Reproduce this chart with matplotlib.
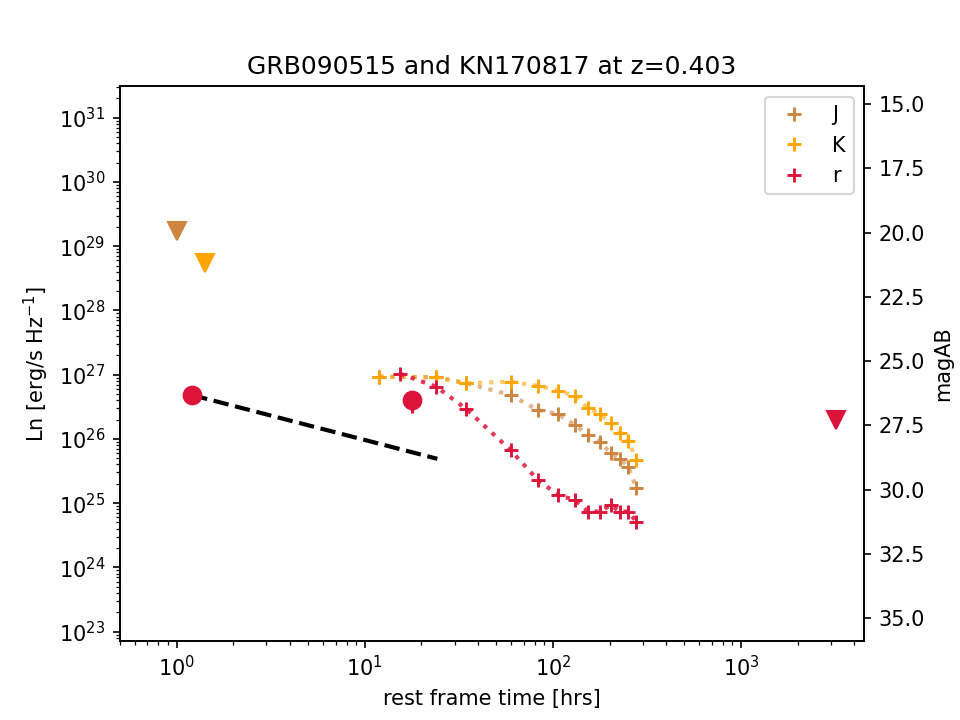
import numpy as np
import matplotlib
matplotlib.use("Agg")
import matplotlib.pyplot as plt

# kilonova light curves (rest frame hours, Ln in erg/s/Hz)
t_J = [11.95, 24.0, 34.7, 59.5, 83.0, 106.6, 130.6, 153.8, 177.5, 202.9, 226.6, 251.4, 277.8]
L_J = [9.3e26, 9.1e26, 7.35e26, 4.83e26, 2.82e26, 2.44e26, 1.65e26, 1.15e26, 9.06e25, 5.98e25, 4.88e25, 3.70e25, 1.71e25]
t_K = [11.95, 24.0, 34.7, 59.5, 83.0, 106.6, 130.6, 153.8, 177.5, 202.9, 226.6, 251.4, 277.8]
L_K = [9.3e26, 9.1e26, 7.35e26, 7.8e26, 6.7e26, 5.6e26, 4.66e26, 3.0e26, 2.44e26, 1.79e26, 1.22e26, 9.4e25, 4.7e25]
t_r = [15.45, 24.0, 34.7, 59.5, 83.0, 106.6, 130.6, 153.8, 177.5, 202.9, 226.6, 251.4, 277.8]
L_r = [1.03e27, 6.5e26, 2.9e26, 6.7e25, 2.3e25, 1.34e25, 1.12e25, 7.4e24, 7.4e24, 9.4e24, 7.4e24, 7.4e24, 5.15e24]

# GRB afterglow detections (r) and upper limits
grb_t = [1.21, 17.9]
grb_L = [4.8e26, 4.0e26]
grb_err_lo = [0.0, 1.5e26]
grb_err_hi = [0.0, 0.5e26]
ul_t = [1.0, 1.415, 3206]
ul_L = [1.72e29, 5.47e28, 1.97e26]
ul_col = ['peru', 'orange', 'crimson']

# power-law decay fit
fit_t = [1.21, 24.3]
fit_L = [4.8e26, 4.9e25]

colors = {'J': 'peru', 'K': 'orange', 'r': 'crimson'}


def L_to_mag(L):
    return 93.03 - 2.5 * np.log10(L)


fig, ax = plt.subplots(figsize=(6.4, 4.8), dpi=150)

for band, t, L in [('J', t_J, L_J), ('K', t_K, L_K), ('r', t_r, L_r)]:
    ax.plot(t, L, ':', color=colors[band], alpha=0.6 if band != 'r' else 0.85, lw=2)
    ax.plot(t, L, '+', color=colors[band], ms=7, mew=1.4, ls='None', label=band)

ax.plot(fit_t, fit_L, '--', color='black', lw=2)
ax.errorbar(grb_t, grb_L, yerr=[grb_err_lo, grb_err_hi], fmt='o', color='crimson', ms=8.5)
for t, L, c in zip(ul_t, ul_L, ul_col):
    ax.plot(t, L, 'v', color=c, ms=8.5)

ax.set_xscale('log')
ax.set_yscale('log')
ax.set_xlim(0.5, 4500)
ax.set_ylim(7.2e22, 3.07e31)
ax.set_xlabel('rest frame time [hrs]')
ax.set_ylabel('Ln [erg/s Hz$^{-1}$]')
ax.set_title('GRB090515 and KN170817 at z=0.403')
ax.legend(loc='upper right')

ax2 = ax.twinx()
lo, hi = ax.get_ylim()
ax2.set_ylim(L_to_mag(lo), L_to_mag(hi))
ax2.set_ylabel('magAB')

fig.savefig('out.png', dpi=150)
